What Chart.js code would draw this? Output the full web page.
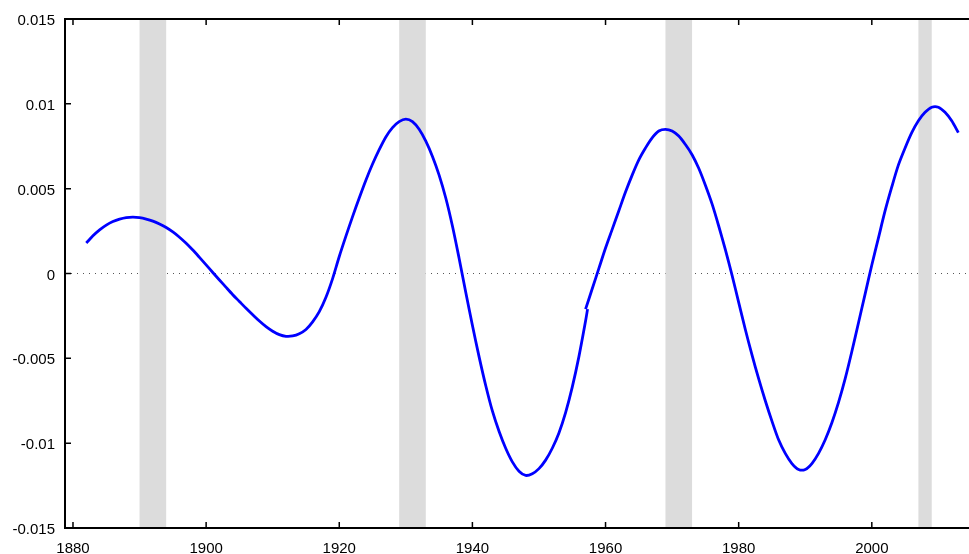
<!DOCTYPE html>
<html>
<head>
<meta charset="utf-8">
<script src="https://cdn.jsdelivr.net/npm/chart.js@4.4.1/dist/chart.umd.min.js"></script>
<style>
  html, body { margin: 0; padding: 0; background: #fff; overflow: hidden; }
  #wrap { position: relative; width: 969px; height: 554px; }
</style>
</head>
<body>
<div id="wrap"><canvas id="chart"></canvas></div>
<script>
// cycle values, in two pieces (the curve breaks near 1957)
const yearsA = [1882, 1883, 1884, 1885, 1886, 1887, 1888, 1889, 1890, 1891,
  1892, 1893, 1894, 1895, 1896, 1897, 1898, 1899, 1900, 1901,
  1902, 1903, 1904, 1905, 1906, 1907, 1908, 1909, 1910, 1911,
  1912, 1913, 1914, 1915, 1916, 1917, 1918, 1919, 1920, 1921,
  1922, 1923, 1924, 1925, 1926, 1927, 1928, 1929, 1930, 1931,
  1932, 1933, 1934, 1935, 1936, 1937, 1938, 1939, 1940, 1941,
  1942, 1943, 1944, 1945, 1946, 1947, 1948, 1949, 1950, 1951,
  1952, 1953, 1954, 1955, 1956, 1957, 1957.3];
const cycleA = [0.00180, 0.00222, 0.00257, 0.00285, 0.00306, 0.00320, 0.00329, 0.00332, 0.00329, 0.00321,
  0.00309, 0.00292, 0.00271, 0.00245, 0.00214, 0.00178, 0.00138, 0.00095, 0.00051, 0.00006,
  -0.00038, -0.00082, -0.00125, -0.00165, -0.00205, -0.00243, -0.00280, -0.00313, -0.00340, -0.00360,
  -0.00370, -0.00368, -0.00355, -0.00330, -0.00285, -0.00225, -0.00140, -0.00030, 0.00100, 0.00220,
  0.00335, 0.00445, 0.00550, 0.00645, 0.00730, 0.00805, 0.00860, 0.00895, 0.00910, 0.00895,
  0.00850, 0.00780, 0.00690, 0.00580, 0.00445, 0.00280, 0.00090, -0.00110, -0.00305, -0.00490,
  -0.00660, -0.00810, -0.00930, -0.01030, -0.01110, -0.01165, -0.01190, -0.01180, -0.01150, -0.01100,
  -0.01030, -0.00940, -0.00820, -0.00670, -0.00490, -0.00280, -0.00210];

const yearsB = [1957, 1958, 1959, 1960, 1961, 1962, 1963, 1964, 1965, 1966,
  1967, 1968, 1969, 1970, 1971, 1972, 1973, 1974, 1975, 1976,
  1977, 1978, 1979, 1980, 1981, 1982, 1983, 1984, 1985, 1986,
  1987, 1988, 1989, 1990, 1991, 1992, 1993, 1994, 1995, 1996,
  1997, 1998, 1999, 2000, 2001, 2002, 2003, 2004, 2005, 2006,
  2007, 2008, 2009, 2010, 2011, 2012, 2013];
const cycleB = [-0.0021, -0.0009, 0.0003, 0.0015, 0.0026, 0.0037, 0.0048, 0.0058, 0.0067, 0.0074,
  0.0080, 0.0084, 0.0085, 0.0084, 0.0081, 0.0076, 0.0070, 0.0062, 0.0052, 0.0041,
  0.0028, 0.0014, -0.0001, -0.0017, -0.0033, -0.0048, -0.0062, -0.0075, -0.0087, -0.0098,
  -0.0106, -0.0112, -0.01155, -0.01155, -0.0112, -0.0106, -0.0098, -0.0088, -0.0076, -0.0062,
  -0.0046, -0.0029, -0.0012, 0.0005, 0.0021, 0.0037, 0.0051, 0.0064, 0.0074, 0.0083,
  0.0090, 0.0095, 0.0098, 0.0098, 0.0095, 0.0090, 0.0083];

// shaded periods [start, end]
const bandStarts = [1890, 1929, 1969, 2007];
const bandEnds = [1894, 1933, 1973, 2009];

const xTicks = [1880, 1900, 1920, 1940, 1960, 1980, 2000];
const yTicks = [-0.015, -0.01, -0.005, 0, 0.005, 0.01, 0.015];

const FONT = "'Liberation Sans', Arial, Helvetica, sans-serif";

const framePlugin = {
  id: 'frame',
  beforeDatasetsDraw(chart) {
    const { ctx, chartArea: a, scales: { x, y } } = chart;
    ctx.save();
    // dotted zero line
    ctx.strokeStyle = '#555';
    ctx.lineWidth = 1;
    ctx.setLineDash([1, 5]);
    ctx.beginPath();
    ctx.moveTo(a.left, y.getPixelForValue(0));
    ctx.lineTo(a.right, y.getPixelForValue(0));
    ctx.stroke();
    ctx.setLineDash([]);
    // shaded bands
    ctx.fillStyle = '#dcdcdc';
    bandStarts.forEach((s, i) => {
      const x0 = x.getPixelForValue(s);
      const x1 = x.getPixelForValue(bandEnds[i]);
      ctx.fillRect(x0, a.top, x1 - x0, a.bottom - a.top);
    });
    ctx.restore();
  },
  afterDraw(chart) {
    const { ctx, chartArea: a, scales: { x, y } } = chart;
    ctx.save();
    ctx.strokeStyle = '#000';
    ctx.lineWidth = 2;
    ctx.beginPath();
    ctx.moveTo(a.right + 2, a.top);
    ctx.lineTo(a.left, a.top);
    ctx.lineTo(a.left, a.bottom);
    ctx.lineTo(a.right + 2, a.bottom);
    ctx.stroke();
    // inward ticks
    ctx.lineWidth = 1.5;
    ctx.beginPath();
    xTicks.forEach(v => {
      const px = x.getPixelForValue(v);
      ctx.moveTo(px, a.bottom);
      ctx.lineTo(px, a.bottom - 6);
      ctx.moveTo(px, a.top);
      ctx.lineTo(px, a.top + 6);
    });
    yTicks.forEach(v => {
      const py = y.getPixelForValue(v);
      ctx.moveTo(a.left, py);
      ctx.lineTo(a.left + 6, py);
    });
    ctx.stroke();
    ctx.restore();
  }
};

const lineStyle = {
  borderColor: '#0000ff',
  borderWidth: 2.8,
  pointRadius: 0,
  fill: false,
  tension: 0.3
};

new Chart(document.getElementById('chart'), {
  type: 'line',
  data: {
    datasets: [
      Object.assign({ data: yearsA.map((yr, i) => ({ x: yr, y: cycleA[i] })) }, lineStyle),
      Object.assign({ data: yearsB.map((yr, i) => ({ x: yr, y: cycleB[i] })) }, lineStyle)
    ]
  },
  options: {
    responsive: true,
    maintainAspectRatio: false,
    animation: false,
    layout: { padding: { top: 17, right: 0, left: 0, bottom: 0 } },
    plugins: { legend: { display: false }, tooltip: { enabled: false } },
    scales: {
      x: {
        type: 'linear',
        min: 1878.8,
        max: 2014.6,
        afterBuildTicks: s => { s.ticks = xTicks.map(v => ({ value: v })); },
        afterFit: s => { s.height = 26; },
        grid: { display: false, drawTicks: false },
        border: { display: false },
        ticks: {
          color: '#000',
          padding: 12,
          maxRotation: 0,
          font: { family: FONT, size: 15 },
          callback: v => String(v)
        }
      },
      y: {
        type: 'linear',
        min: -0.015,
        max: 0.015,
        afterBuildTicks: s => { s.ticks = yTicks.map(v => ({ value: v })); },
        afterFit: s => { s.width = 65; },
        grid: { display: false, drawTicks: false },
        border: { display: false },
        ticks: {
          color: '#000',
          padding: 10,
          labelOffset: 2,
          font: { family: FONT, size: 15 },
          callback: v => String(Math.round(v * 1000) / 1000)
        }
      }
    }
  },
  plugins: [framePlugin]
});
</script>
</body>
</html>
